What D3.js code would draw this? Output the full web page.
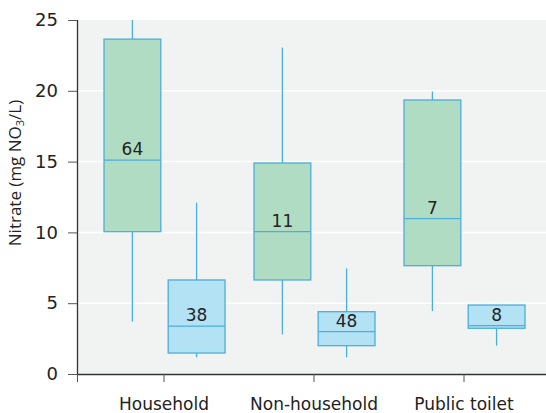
<!DOCTYPE html>
<html>
<head>
<meta charset="utf-8">
<script src="https://cdn.jsdelivr.net/npm/d3@7"></script>
<style>
  html, body { margin: 0; padding: 0; background: #ffffff; }
  svg { display: block; }
</style>
</head>
<body>
<svg id="chart" width="546" height="413"></svg>
<script>
// Nitrate concentrations by source type, two sample groups per source
const categories = ["Household", "Non-household", "Public toilet"];
const groups = ["green", "blue"];
const yTicks = [0, 5, 10, 15, 20, 25];

// [lower whisker, Q1, median, Q3, upper whisker] per category
const greenStats = [
  [3.7, 10.05, 15.1, 23.65, 26],
  [2.8, 6.64, 10.05, 14.9, 23.05],
  [4.45, 7.65, 10.97, 19.35, 19.95]
];
const blueStats = [
  [1.18, 1.48, 3.38, 6.64, 12.1],
  [1.18, 2.0, 2.99, 4.4, 7.46],
  [2.0, 3.23, 3.41, 4.87, 4.87]
];
const greenCounts = [64, 11, 7];
const blueCounts = [38, 48, 8];

const svg = d3.select("#chart");
const W = 546, H = 413;
const margin = { left: 77, top: 20, bottom: 39 };

const y = d3.scaleLinear().domain([0, 25]).range([H - margin.bottom, margin.top]);
const x = d3.scaleBand().domain(categories).range([89, 539]);
const sub = d3.scaleBand().domain(groups).range([15, 136]).paddingInner(0.115);

const fills = { green: "#b0dcc3", blue: "#b3e2f5" };
const stroke = "#4caedb";
const font = "'DejaVu Sans', sans-serif";

// plot background
svg.append("rect")
  .attr("x", margin.left).attr("y", margin.top)
  .attr("width", W - margin.left).attr("height", y(0) - margin.top)
  .attr("fill", "#f1f2f2");

// white gridlines
svg.append("g").selectAll("line")
  .data(yTicks.filter(t => t > 0 && t < 25))
  .join("line")
  .attr("x1", margin.left).attr("x2", W)
  .attr("y1", d => y(d)).attr("y2", d => y(d))
  .attr("stroke", "#ffffff").attr("stroke-width", 1.5);

svg.append("clipPath").attr("id", "plotclip")
  .append("rect")
  .attr("x", margin.left).attr("y", margin.top)
  .attr("width", W - margin.left).attr("height", y(0) - margin.top);

const plot = svg.append("g").attr("clip-path", "url(#plotclip)");

const boxes = [];
categories.forEach((c, i) => {
  boxes.push({ cat: c, grp: "green", s: greenStats[i], n: greenCounts[i] });
  boxes.push({ cat: c, grp: "blue", s: blueStats[i], n: blueCounts[i] });
});

const bw = sub.bandwidth();
const bg = plot.selectAll("g.box").data(boxes).join("g").attr("class", "box")
  .attr("transform", d => `translate(${x(d.cat) + sub(d.grp)},0)`);

// whiskers
bg.append("line")
  .attr("x1", bw / 2).attr("x2", bw / 2)
  .attr("y1", d => y(d.s[4])).attr("y2", d => y(d.s[3]))
  .attr("stroke", stroke).attr("stroke-width", 1.3);
bg.append("line")
  .attr("x1", bw / 2).attr("x2", bw / 2)
  .attr("y1", d => y(d.s[1])).attr("y2", d => y(d.s[0]))
  .attr("stroke", stroke).attr("stroke-width", 1.3);

// boxes
bg.append("rect")
  .attr("x", 0).attr("width", bw)
  .attr("y", d => y(d.s[3])).attr("height", d => y(d.s[1]) - y(d.s[3]))
  .attr("fill", d => fills[d.grp])
  .attr("stroke", stroke).attr("stroke-width", 1.3);

// medians
bg.append("line")
  .attr("x1", 0).attr("x2", bw)
  .attr("y1", d => y(d.s[2])).attr("y2", d => y(d.s[2]))
  .attr("stroke", stroke).attr("stroke-width", 1.3);

// sample counts above the median
bg.append("text")
  .attr("x", bw / 2)
  .attr("y", d => y(d.s[2]) - 5)
  .attr("text-anchor", "middle")
  .attr("font-family", font)
  .attr("font-size", 17)
  .attr("fill", "#222")
  .text(d => d.n);

// y axis
const yAxis = svg.append("g")
  .attr("transform", `translate(${margin.left},0)`)
  .call(d3.axisLeft(y).tickValues(yTicks).tickSize(9).tickPadding(10));
yAxis.select(".domain").attr("stroke", "#333").attr("stroke-width", 1.3)
  .attr("d", `M0.5,${y(25)}V${y(0)}`);
yAxis.selectAll(".tick line").attr("stroke", "#555");
yAxis.selectAll(".tick text")
  .attr("font-family", font)
  .attr("font-size", 18).attr("fill", "#222");

// x axis
const xAxis = svg.append("g")
  .attr("transform", `translate(0,${y(0)})`)
  .call(d3.axisBottom(x).tickSize(8).tickPadding(16));
xAxis.select(".domain").attr("stroke", "#333").attr("stroke-width", 1.3)
  .attr("d", `M${margin.left},0.5H${W}`);
xAxis.selectAll(".tick line").attr("stroke", "#555");
xAxis.selectAll(".tick text")
  .attr("font-family", font)
  .attr("font-size", 17).attr("fill", "#222");
// tick at the left end of the x axis
xAxis.append("line")
  .attr("x1", margin.left + 0.5).attr("x2", margin.left + 0.5)
  .attr("y1", 0).attr("y2", 8).attr("stroke", "#555");

// y axis title
svg.append("text")
  .attr("transform", `translate(21,${(y(0) + y(25)) / 2 - 24}) rotate(-90)`)
  .attr("text-anchor", "middle")
  .attr("font-family", "'Open Sans', sans-serif")
  .attr("font-size", 17).attr("fill", "#222")
  .html('Nitrate (mg NO<tspan font-size="11" dy="3">3</tspan><tspan dy="-3">/L)</tspan>');
</script>
</body>
</html>
